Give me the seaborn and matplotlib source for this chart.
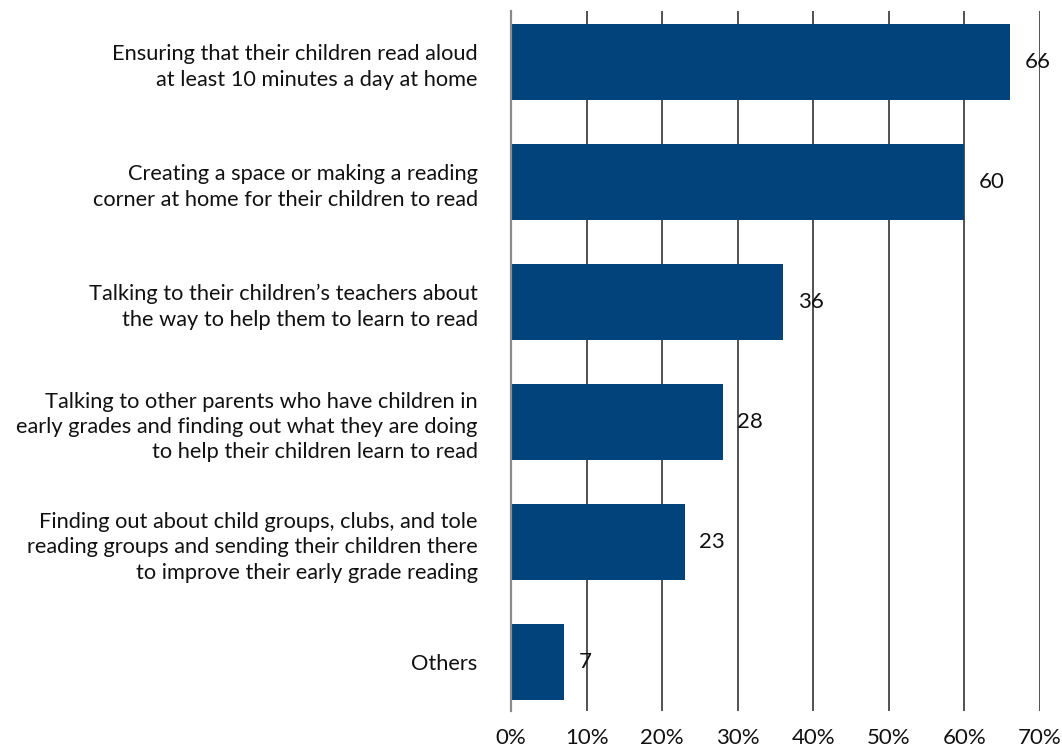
import matplotlib
matplotlib.use("Agg")
import matplotlib.pyplot as plt
import seaborn as sns
import pandas as pd

# Share of parents reporting each reading-support activity (%)
categories = [
    "Ensuring that their children read aloud\nat least 10 minutes a day at home",
    "Creating a space or making a reading\ncorner at home for their children to read",
    "Talking to their children\u2019s teachers about\nthe way to help them to learn to read",
    "Talking to other parents who have children in\nearly grades and finding out what they are doing\nto help their children learn to read",
    "Finding out about child groups, clubs, and tole\nreading groups and sending their children there\nto improve their early grade reading",
    "Others",
]
values = [66, 60, 36, 28, 23, 7]
x_ticks = [0, 10, 20, 30, 40, 50, 60, 70]
x_tick_labels = ["0%", "10%", "20%", "30%", "40%", "50%", "60%", "70%"]

df = pd.DataFrame({"activity": categories, "share": values})

sns.set_theme(style="white")
plt.rcParams["font.family"] = ["Lato", "DejaVu Sans"]

fig = plt.figure(figsize=(10.62, 7.5), dpi=100)
ax = fig.add_axes([0.4812, 0.052, 0.4981, 0.9333])

sns.barplot(data=df, x="share", y="activity", orient="h", color="#01437a",
            saturation=1, width=0.633, ax=ax, zorder=3)
for p in ax.patches:
    p.set_edgecolor("none")

ax.set_xlim(0, 70)
ax.set_ylim(5.404, -0.425)
ax.set_xticks(x_ticks)
ax.set_xticklabels(x_tick_labels, fontsize=16, color="#111111")
ax.tick_params(axis="x", length=0, pad=12)
ax.tick_params(axis="y", length=0, pad=24, labelsize=15.7, labelcolor="#111111")
for lbl in ax.get_yticklabels():
    lbl.set_horizontalalignment("right")
    lbl.set_linespacing(1.34)

ax.set_xlabel("")
ax.set_ylabel("")

# vertical gridlines
ax.grid(axis="x", color="#222222", linewidth=1.1, zorder=0)
ax.grid(axis="y", visible=False)
ax.set_axisbelow(True)
for s in ["top", "right", "bottom"]:
    ax.spines[s].set_visible(False)
ax.spines["left"].set_color("#8a8a8a")
ax.spines["left"].set_linewidth(1.6)
ax.spines["left"].set_zorder(4)

ax.bar_label(ax.containers[0], labels=[str(v) for v in values], padding=10.5,
             fontsize=16, color="#111111", zorder=5)

fig.savefig("out.png", dpi=100)
